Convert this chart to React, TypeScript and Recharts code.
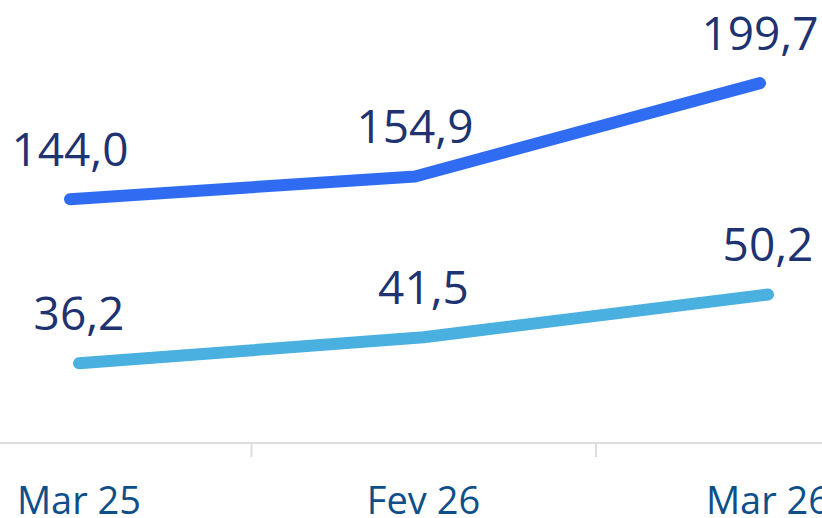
import { LineChart, Line, XAxis, YAxis, LabelList } from "recharts";

const months = ["Mar 25", "Fev 26", "Mar 26"];
const totalValues = [144.0, 154.9, 199.7];
const partValues = [36.2, 41.5, 50.2];

const data = months.map((month, i) => ({
  month,
  total: totalValues[i],
  part: partValues[i],
}));

const HALF_STEP = 172.5;

function formatValue(value: number): string {
  return value.toFixed(1).replace(".", ",");
}

function MonthTick(props: any) {
  const { x, y, payload } = props;
  return (
    <g>
      <line x1={x + HALF_STEP} x2={x + HALF_STEP} y1={y + 1} y2={y + 14} stroke="#dddddd" strokeWidth={2} />
      <text
        x={x}
        y={y + 71}
        textAnchor="middle"
        fill="#0e4f8a"
        fontSize={38}
        fontFamily="'Open Sans', sans-serif"
      >
        {payload.value}
      </text>
    </g>
  );
}

export default function App() {
  return (
    <div
      style={{
        position: "absolute",
        left: 0,
        top: 0,
        width: 822,
        height: 518,
        overflow: "hidden",
        background: "#ffffff",
      }}
    >
      <div style={{ position: "absolute", left: -95, top: 0 }}>
        <LineChart width={1035} height={518} data={data} margin={{ top: 20, right: 0, bottom: 0, left: 0 }}>
          <XAxis
            xAxisId="labels"
            dataKey="month"
            height={75}
            padding={{ left: 174, right: 172 }}
            axisLine={{ stroke: "#dddddd", strokeWidth: 2 }}
            tickLine={false}
            tickSize={0}
            tickMargin={0}
            interval={0}
            tick={<MonthTick />}
          />
          <XAxis xAxisId="total" dataKey="month" hide padding={{ left: 165, right: 180 }} />
          <YAxis yAxisId="total" hide domain={[27, 230]} />
          <YAxis yAxisId="part" hide domain={[20, 106]} />
          <Line
            xAxisId="total"
            yAxisId="total"
            type="linear"
            dataKey="total"
            stroke="#306cf2"
            strokeWidth={12}
            strokeLinecap="round"
            strokeLinejoin="round"
            dot={false}
            activeDot={false}
            isAnimationActive={false}
          >
            <LabelList
              dataKey="total"
              position="top"
              offset={33}
              formatter={(v: any) => formatValue(Number(v))}
              fill="#1e3370"
              fontSize={46}
              fontFamily="'Open Sans', sans-serif"
            />
          </Line>
          <Line
            xAxisId="labels"
            yAxisId="part"
            type="linear"
            dataKey="part"
            stroke="#4ab0e0"
            strokeWidth={12}
            strokeLinecap="round"
            strokeLinejoin="round"
            dot={false}
            activeDot={false}
            isAnimationActive={false}
          >
            <LabelList
              dataKey="part"
              position="top"
              offset={33}
              formatter={(v: any) => formatValue(Number(v))}
              fill="#1e3370"
              fontSize={46}
              fontFamily="'Open Sans', sans-serif"
            />
          </Line>
        </LineChart>
      </div>
    </div>
  );
}
